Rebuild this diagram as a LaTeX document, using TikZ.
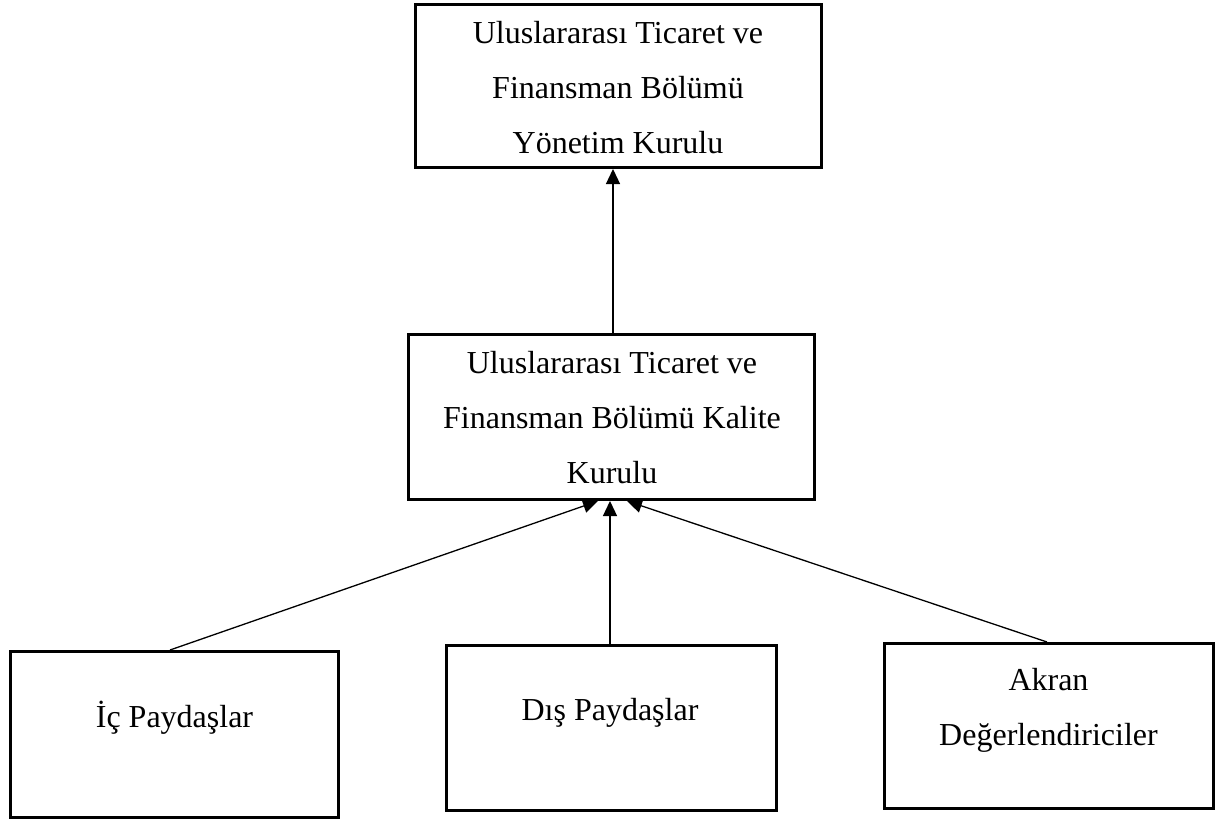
\documentclass[tikz,border=0pt]{standalone}
\usepackage{fontspec}
\setmainfont{Liberation Serif}
\usetikzlibrary{arrows.meta,calc}
\begin{document}
\begin{tikzpicture}[x=1pt,y=-1pt,
  box/.style={draw=black,line width=3pt,rectangle,inner sep=0pt},
  txt/.style={align=center,inner sep=0pt,anchor=base,font=\fontsize{32}{55}\selectfont},
  conn/.style={draw=black,line width=1.3pt,-{Triangle[length=15pt,width=14pt]}}]
\useasboundingbox (0,0) rectangle (1219,822);
% boxes
\node[box,minimum width=406pt,minimum height=163pt] (top) at (618.5,86) {};
\node[box,minimum width=406pt,minimum height=165pt] (mid) at (611.5,417) {};
\node[box,minimum width=328pt,minimum height=166pt] (bl) at (174.5,734.5) {};
\node[box,minimum width=330pt,minimum height=165pt] (bm) at (611.5,728) {};
\node[box,minimum width=329pt,minimum height=165pt] (br) at (1049,726) {};
% texts (base = baseline of last line)
\node[txt] (ttop) at (618,153) {Uluslararası Ticaret ve\\Finansman Bölümü\\Yönetim Kurulu};
\node[txt] (tmid) at (612,483) {Uluslararası Ticaret ve\\Finansman Bölümü Kalite\\Kurulu};
\node[txt] (tbl) at (174.5,727) {İç Paydaşlar};
\node[txt] (tbm) at (610,720) {Dış Paydaşlar};
\node[txt] (tbr) at (1048.5,745) {Akran\\Değerlendiriciler};
% connectors
\draw[conn] ($(mid.north)+(1.5,0)$) -- ($(top.south)+(-5.5,0)$);
\draw[conn] ($(bl.north)+(-4.5,0)$) -- ($(mid.south)+(-13.5,0)$);
\draw[conn] ($(bm.north)+(-1.5,0)$) -- ($(mid.south)+(-1.5,0)$);
\draw[conn] ($(br.north)+(-2,0)$) -- ($(mid.south)+(15.5,0)$);
\end{tikzpicture}
\end{document}
